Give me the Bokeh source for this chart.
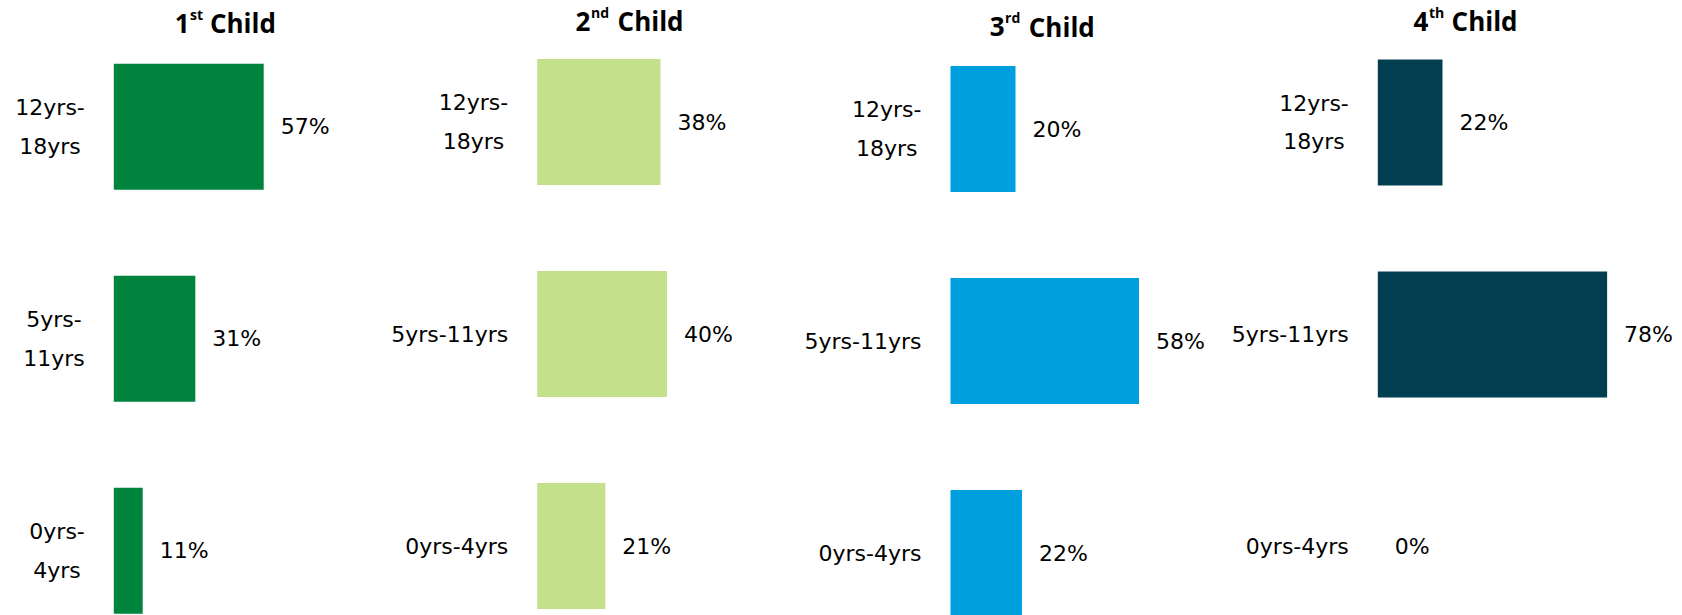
from bokeh.plotting import figure
from bokeh.layouts import row
from bokeh.models import Range1d, ColumnDataSource
from bokeh.core.properties import value
from bokeh.embed import file_html
from bokeh.resources import INLINE

# ---- data ----
categories = ["0yrs-4yrs", "5yrs-11yrs", "12yrs-18yrs"]
title_numbers = ["1", "2", "3", "4"]
title_suffixes = ["st", "nd", "rd", "th"]
title_word = "Child"
first_child = [11, 31, 57]
second_child = [21, 40, 38]
third_child = [22, 58, 20]
fourth_child = [0, 78, 22]
tick_labels_first = ["0yrs-\n4yrs", "5yrs-\n11yrs", "12yrs-\n18yrs"]
tick_labels_other = ["0yrs-4yrs", "5yrs-11yrs", "12yrs-\n18yrs"]
colors = ["#00843D", "#C5E08B", "#00A0DF", "#013E50"]

series = [first_child, second_child, third_child, fourth_child]
tick_sets = [tick_labels_first, tick_labels_other, tick_labels_other, tick_labels_other]

# ---- layout (pixels) ----
H = 615
PITCH = 212.0
BAR_PX = 126.0
# fig width, bar-left offset, px per %, top-bar top, title centre x, title baseline
layout = [
    (350, 113.3, 2.63, 63.3, 227.5, 22.5),
    (410, 186.7, 3.245, 58.5, 281.8, 20.5),
    (460, 190.0, 3.25, 65.5, 284.5, 26.0),
    (462, 157.3, 2.94, 59.0, 247.8, 20.5),
]
TSIZE = 26
SSIZE = 14
SUP_W = {"st": 0.90 * SSIZE, "nd": 1.38 * SSIZE, "rd": 1.17 * SSIZE, "th": 1.10 * SSIZE}
NUM_W = 0.572 * TSIZE
GAP_W = 0.30 * TSIZE
WORD_W = 2.749 * TSIZE

LABEL_FONT = value("DejaVu Sans")
TITLE_FONT = value("Open Sans")
LSIZE = "22px"

panels = []
for i, vals in enumerate(series):
    fig_w, off, s, top, txc, tbase = layout[i]
    n = len(categories)
    y_end = (n - 1) + (top + BAR_PX / 2) / PITCH
    y_start = y_end - H / PITCH
    x_start = -off / s
    x_end = (fig_w - off) / s
    p = figure(width=fig_w, height=H,
               x_range=Range1d(x_start, x_end), y_range=Range1d(y_start, y_end),
               output_backend="svg", toolbar_location=None, min_border=0,
               outline_line_color=None, x_axis_location=None, y_axis_location=None,
               background_fill_color="white", border_fill_color="white")
    p.grid.visible = False
    ys = list(range(n))
    src = ColumnDataSource(dict(
        y=ys, v=vals, lab=tick_sets[i], pct=[f"{v}%" for v in vals], zero=[0] * n,
        cat=categories))
    p.hbar(y="y", left=0, right="v", height=BAR_PX / PITCH, source=src,
           fill_color=colors[i], line_color=None)
    p.text(x="zero", y="y", text="lab", source=src, x_offset=-29,
           anchor="center_right", text_align="center", text_baseline="middle",
           text_font=LABEL_FONT, text_font_size=LSIZE, text_line_height=1.55,
           text_color="#000000")
    p.text(x="v", y="y", text="pct", source=src, x_offset=17,
           text_align="left", text_baseline="middle",
           text_font=LABEL_FONT, text_font_size=LSIZE, text_color="#000000")

    # title: number + superscript suffix + word
    sup = title_suffixes[i]
    total = NUM_W + SUP_W[sup] + GAP_W + WORD_W
    tx = (txc - off) / s
    ty = y_end - tbase / PITCH
    ty_sup = y_end - (tbase - 9) / PITCH
    start = -total / 2
    p.text(x=[tx], y=[ty], text=[title_numbers[i]], x_offset=start,
           text_align="left", text_baseline="alphabetic", text_font=TITLE_FONT,
           text_font_style="bold", text_font_size=f"{TSIZE}px", text_color="#000000")
    p.text(x=[tx], y=[ty_sup], text=[sup], x_offset=start + NUM_W + 0.5,
           text_align="left", text_baseline="alphabetic", text_font=TITLE_FONT,
           text_font_style="bold", text_font_size=f"{SSIZE}px", text_color="#000000")
    p.text(x=[tx], y=[ty], text=[title_word], x_offset=start + NUM_W + SUP_W[sup] + GAP_W,
           text_align="left", text_baseline="alphabetic", text_font=TITLE_FONT,
           text_font_style="bold", text_font_size=f"{TSIZE}px", text_color="#000000")
    panels.append(p)

layout_row = row(*panels, spacing=0)
open("out.html", "w").write(file_html(layout_row, INLINE))
